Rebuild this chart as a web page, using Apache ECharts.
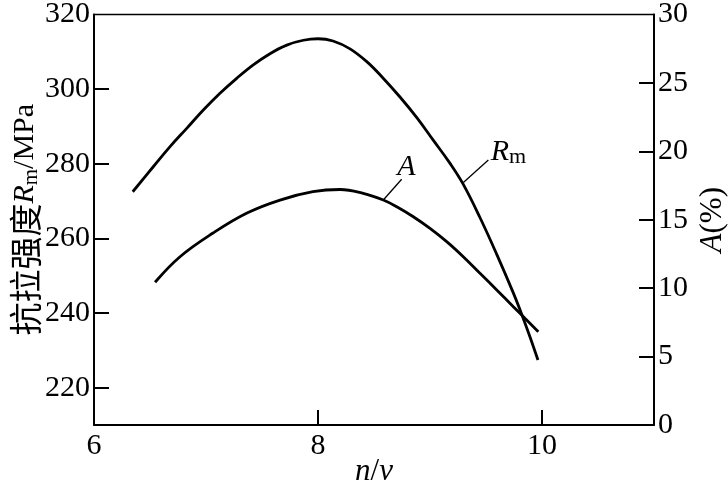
<!DOCTYPE html>
<html>
<head>
<meta charset="utf-8">
<script src="https://cdn.jsdelivr.net/npm/echarts@6/dist/echarts.min.js"></script>
<style>html,body{margin:0;padding:0;background:#fff}#c{width:728px;height:484px}</style>
</head>
<body>
<div id="c"></div>
<script>
// n/v values and tensile strength Rm (MPa)
const rmX = [6.346, 6.529, 6.679, 6.828, 6.976, 7.125, 7.274, 7.422, 7.571, 7.721, 7.869, 8.000, 8.134, 8.286, 8.438, 8.580, 8.732, 8.884, 9.027, 9.179, 9.295, 9.446, 9.598, 9.741, 9.821, 9.893, 9.964];
const rmY = [272.5, 279.2, 284.6, 289.5, 294.4, 298.9, 302.9, 306.5, 309.5, 311.8, 313.1, 313.5, 312.9, 310.8, 307.3, 303.0, 297.9, 292.3, 286.4, 280.1, 274.6, 265.6, 255.6, 245.6, 239.5, 233.6, 227.4];
// n/v values and elongation A (%)
const aX = [6.545, 6.768, 7.063, 7.366, 7.661, 7.955, 8.196, 8.404, 8.583, 8.703, 8.851, 9.000, 9.149, 9.297, 9.446, 9.596, 9.744, 9.967];
const aY = [10.43, 12.30, 14.03, 15.49, 16.44, 17.05, 17.21, 16.93, 16.44, 15.95, 15.22, 14.37, 13.40, 12.30, 11.09, 9.87, 8.65, 6.82];
// tick labels
const xLabels = [6, 8, 10];
const xTicks = [8, 10];
const leftLabels = [220, 240, 260, 280, 300, 320];
const leftTicks = [220, 240, 260, 280, 300];
const rightLabels = [0, 5, 10, 15, 20, 25, 30];
const rightTicks = [5, 10, 15, 20, 25];

const serif = '"Liberation Serif", "Times New Roman", serif';
const cjk = '"Noto Sans CJK SC", sans-serif';
const labelStyle = {color: '#000', fontFamily: serif, fontSize: 30};
const tickStyle = {show: true, inside: true, length: 15, lineStyle: {color: '#000', width: 2}};
const lineAxis = {show: true, lineStyle: {color: '#000', width: 2}};

const chart = echarts.init(document.getElementById('c'));
chart.setOption({
  animation: false,
  backgroundColor: '#fff',
  grid: {left: 94, right: 74, top: 14.5, bottom: 59, outerBoundsMode: 'none', containLabel: false,
    show: true, borderColor: '#000', borderWidth: 1.5, backgroundColor: 'transparent'},
  xAxis: {
    type: 'value', min: 6, max: 11,
    axisLine: lineAxis,
    axisTick: Object.assign({customValues: xTicks}, tickStyle),
    axisLabel: Object.assign({customValues: xLabels, margin: 6}, labelStyle),
    splitLine: {show: false},
    name: '{i|n}{n|/}{i|v}', nameLocation: 'middle', nameGap: 31, nameMoveOverlap: false,
    nameTextStyle: {rich: {
      i: {fontFamily: serif, fontStyle: 'italic', fontSize: 31, color: '#000'},
      n: {fontFamily: serif, fontSize: 31, color: '#000'}
    }}
  },
  yAxis: [{
    type: 'value', min: 210, max: 320, position: 'left',
    axisLine: lineAxis,
    axisTick: Object.assign({customValues: leftTicks}, tickStyle),
    axisLabel: Object.assign({customValues: leftLabels, margin: 4}, labelStyle),
    splitLine: {show: false},
    name: '{zh|抗拉强度}{i|R}{s|m}{n|/MPa}', nameLocation: 'middle', nameGap: 52, nameRotate: 90, nameMoveOverlap: false,
    nameTextStyle: {rich: {
      zh: {fontFamily: cjk, fontSize: 33, color: '#000', lineHeight: 34},
      i: {fontFamily: serif, fontStyle: 'italic', fontSize: 30, color: '#000', lineHeight: 34},
      s: {fontFamily: serif, fontSize: 21, color: '#000', verticalAlign: 'bottom', lineHeight: 21},
      n: {fontFamily: serif, fontSize: 30, color: '#000', lineHeight: 34}
    }}
  }, {
    type: 'value', min: 0, max: 30, position: 'right',
    axisLine: lineAxis,
    axisTick: Object.assign({customValues: rightTicks}, tickStyle),
    axisLabel: Object.assign({customValues: rightLabels, margin: 4}, labelStyle),
    splitLine: {show: false},
    name: '{i|A}{n|(%)}', nameLocation: 'middle', nameGap: 43, nameRotate: 90, nameMoveOverlap: false,
    nameTextStyle: {rich: {
      i: {fontFamily: serif, fontStyle: 'italic', fontSize: 31, color: '#000'},
      n: {fontFamily: serif, fontSize: 31, color: '#000'}
    }}
  }],
  series: [{
    type: 'line', yAxisIndex: 0, smooth: 0.4, symbol: 'none',
    lineStyle: {color: '#000', width: 2.8},
    data: rmX.map((x, i) => [x, rmY[i]]),
    markLine: {
      silent: true, symbol: 'none', label: {show: false},
      lineStyle: {color: '#000', width: 1.3, type: 'solid'},
      data: [[{coord: [9.298, 275.0]}, {coord: [9.521, 281.0]}]]
    },
    markPoint: {
      silent: true,
      data: [{coord: [9.70, 283.2], symbol: 'circle', symbolSize: 0,
        label: {show: true, position: 'inside', formatter: '{i|R}{s|m}',
          rich: {
            i: {fontFamily: serif, fontStyle: 'italic', fontSize: 30, color: '#000', lineHeight: 32},
            s: {fontFamily: serif, fontSize: 22, color: '#000', verticalAlign: 'bottom', lineHeight: 22}
          }}}]
    }
  }, {
    type: 'line', yAxisIndex: 1, smooth: 0.4, symbol: 'none',
    lineStyle: {color: '#000', width: 2.8},
    data: aX.map((x, i) => [x, aY[i]]),
    markLine: {
      silent: true, symbol: 'none', label: {show: false},
      lineStyle: {color: '#000', width: 1.3, type: 'solid'},
      data: [[{coord: [8.583, 16.44]}, {coord: [8.747, 17.96]}]]
    },
    markPoint: {
      silent: true,
      data: [{coord: [8.79, 18.85], symbol: 'circle', symbolSize: 0,
        label: {show: true, position: 'inside', formatter: '{i|A}',
          rich: {i: {fontFamily: serif, fontStyle: 'italic', fontSize: 30, color: '#000'}}}}]
    }
  }]
});
</script>
</body>
</html>
